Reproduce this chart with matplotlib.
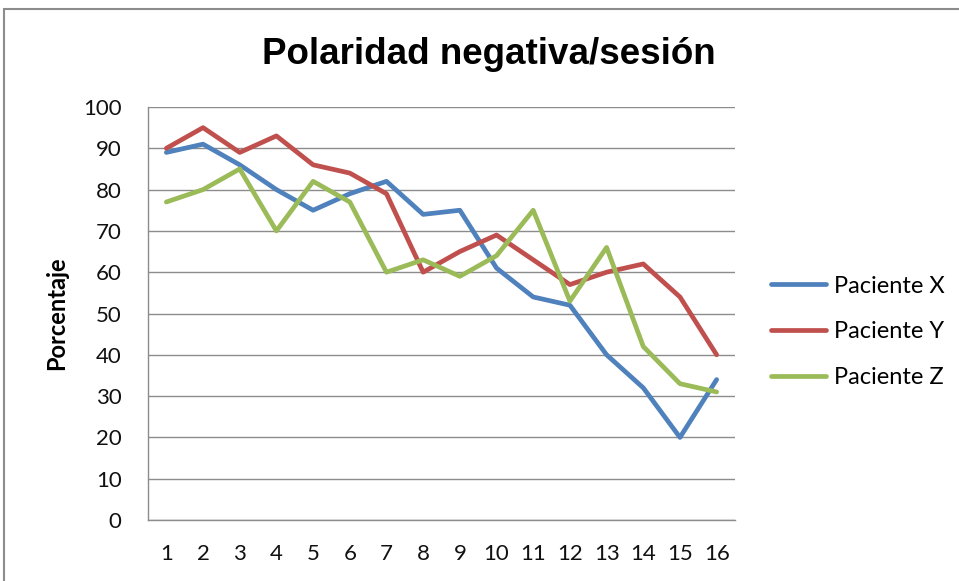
import matplotlib.pyplot as plt
from matplotlib.patches import Rectangle

sesiones = list(range(1, 17))
paciente_x = [89, 91, 86, 80, 75, 79, 82, 74, 75, 61, 54, 52, 40, 32, 20, 34]
paciente_y = [90, 95, 89, 93, 86, 84, 79, 60, 65, 69, 63, 57, 60, 62, 54, 40]
paciente_z = [77, 80, 85, 70, 82, 77, 60, 63, 59, 64, 75, 53, 66, 42, 33, 31]
series_names = ['Paciente X', 'Paciente Y', 'Paciente Z']
colors = ['#4F81BD', '#C0504D', '#9BBB59']
yticks = list(range(0, 101, 10))

fig = plt.figure(figsize=(9.59, 5.81), dpi=100)
ax = fig.add_axes([148 / 959, 61 / 581, 587 / 959, 413 / 581])

# outer chart border (cut off at right/bottom in the reference)
fig.patches.append(Rectangle((4 / 959, -0.1), 1.2, 1.1 - 9 / 581,
                             transform=fig.transFigure, fill=False,
                             edgecolor='#8c8c8c', linewidth=1.5))

for vals, name, c in zip([paciente_x, paciente_y, paciente_z], series_names, colors):
    ax.plot(sesiones, vals, color=c, linewidth=3.4, label=name, solid_capstyle='round')

ax.set_xlim(0.5, 16.5)
ax.set_ylim(0, 100)
ax.set_yticks(yticks)
ax.set_xticks(sesiones)
ax.yaxis.grid(True, color='#8c8c8c', linewidth=1)
ax.set_axisbelow(True)
for s in ['top', 'right']:
    ax.spines[s].set_visible(False)
for s in ['left', 'bottom']:
    ax.spines[s].set_color('#8c8c8c')
    ax.spines[s].set_linewidth(1)
ax.tick_params(length=0, labelsize=16, colors='#111111')
ax.tick_params(axis='x', pad=17)
ax.tick_params(axis='y', pad=19)
for lab in ax.get_xticklabels() + ax.get_yticklabels():
    lab.set_family('Lato')

ax.set_ylabel('Porcentaje', fontsize=17, fontweight='bold', family='Lato', labelpad=11)
fig.text(489 / 959, 1 - 55 / 581, 'Polaridad negativa/sesión', ha='center', va='center',
         fontsize=26.5, fontweight='bold', family='Liberation Sans')

handles, labels = ax.get_legend_handles_labels()
fig.legend(handles, labels, loc='center left', bbox_to_anchor=(771 / 959, 1 - 332 / 581),
           frameon=False, handlelength=2.35, labelspacing=1.05, handletextpad=0.3,
           borderpad=0, borderaxespad=0, prop={'family': 'Lato', 'size': 17})

fig.savefig('out.png', dpi=100)
